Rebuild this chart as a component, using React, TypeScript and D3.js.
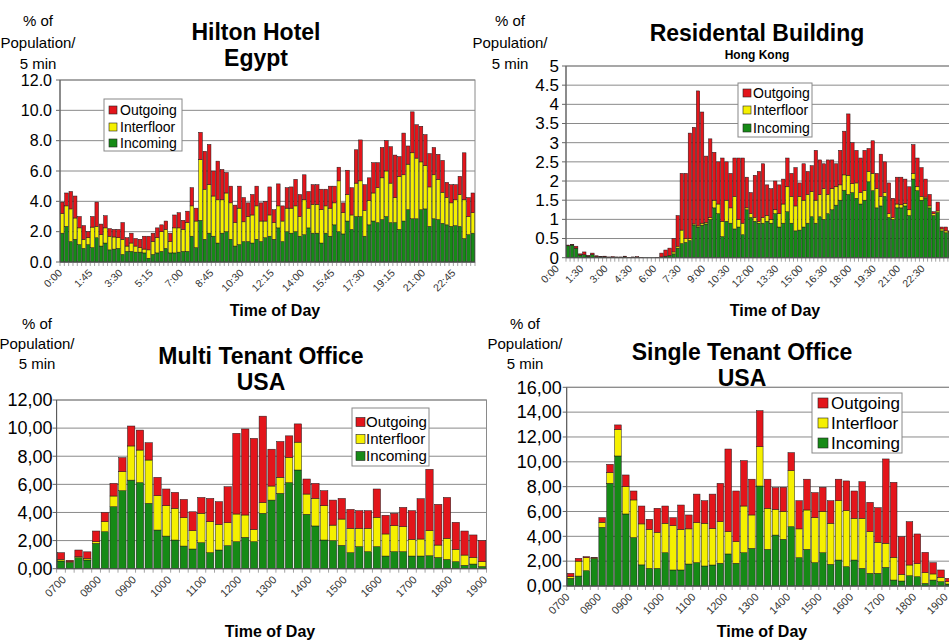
import React from 'react';
import * as d3 from 'd3';

// ---- Hilton Hotel, Egypt (15 min bars, 0:00 - 23:45)
const hiltonIncoming = [
  1.9, 2.35, 1.35, 1.5, 1.15, 0.9, 1.15, 0.95, 1.6, 1.05,
  1.25, 0.8, 0.85, 0.9, 0.5, 0.7, 0.7, 0.65, 0.65, 0.6,
  0.25, 0.5, 0.6, 0.7, 0.9, 0.6, 0.6, 0.65, 0.7, 0.7,
  1.7, 0.95, 2.75, 1.5, 1.9, 1.7, 1.25, 1.9, 2.0, 1.5,
  1.05, 1.15, 1.35, 1.35, 1.25, 1.5, 1.35, 1.6, 1.7, 1.5,
  2.25, 1.35, 2.0, 1.9, 2.0, 1.7, 1.8, 2.25, 1.9, 1.9,
  1.25, 1.9, 1.7, 2.45, 2.0, 1.85, 2.7, 2.15, 3.0, 3.0,
  1.7, 2.45, 2.7, 2.6, 2.8, 3.0, 2.6, 2.6, 2.15, 2.7,
  3.45, 2.85, 2.85, 3.45, 3.5, 2.35, 2.85, 2.8, 2.55, 2.45,
  2.35, 2.4, 2.35, 1.55, 1.8, 1.9,
];
const hiltonInterfloor = [
  1.3, 1.35, 2.15, 1.4, 1.1, 0.6, 0.45, 1.35, 0.75, 0.75,
  1.0, 0.9, 0.8, 0.7, 1.0, 0.35, 0.55, 0.4, 0.3, 0.25,
  0.55, 0.85, 1.0, 1.3, 1.25, 0.75, 1.65, 1.6, 1.45, 1.9,
  2.0, 1.75, 4.0, 3.3, 3.2, 2.65, 2.85, 2.2, 2.55, 2.4,
  1.55, 2.4, 1.3, 1.65, 1.85, 2.2, 1.35, 1.1, 1.4, 1.1,
  1.45, 1.35, 1.55, 1.65, 1.7, 1.3, 2.3, 1.3, 1.9, 1.9,
  2.2, 1.8, 1.85, 1.45, 3.35, 1.4, 1.75, 0.95, 2.2, 2.35,
  1.7, 1.6, 1.85, 2.3, 2.75, 3.0, 2.6, 1.65, 3.5, 3.05,
  3.0, 4.35, 4.0, 3.15, 2.85, 2.6, 2.9, 2.65, 2.05, 1.8,
  1.55, 1.7, 2.1, 2.55, 1.2, 1.35,
];
const hiltonOutgoing = [
  0.75, 0.85, 1.15, 1.45, 0.75, 0.9, 0.4, 0.7, 1.6, 0.7,
  0.8, 0.5, 0.5, 0.55, 1.1, 0.55, 0.65, 0.5, 0.55, 0.85,
  0.9, 0.55, 0.65, 0.45, 0.55, 0.55, 0.85, 1.0, 0.6, 0.75,
  1.2, 0.85, 1.8, 2.5, 2.65, 1.65, 2.55, 2.0, 1.35, 1.1,
  1.15, 1.45, 1.6, 0.9, 1.35, 1.3, 1.2, 1.3, 1.85, 0.85,
  1.45, 1.0, 1.35, 1.4, 1.75, 1.45, 1.65, 1.1, 1.3, 1.3,
  1.35, 1.1, 1.45, 1.1, 0.9, 0.65, 1.6, 1.8, 2.2, 2.7,
  1.7, 1.5, 2.0, 1.65, 2.0, 2.0, 2.4, 2.8, 1.3, 2.75,
  1.2, 2.7, 2.2, 2.35, 2.05, 2.2, 1.8, 1.65, 2.1, 1.0,
  1.2, 1.0, 1.2, 3.1, 1.25, 1.3,
];
const hiltonTicks = ['0:00', '1:45', '3:30', '5:15', '7:00', '8:45', '10:30', '12:15', '14:00', '15:45', '17:30', '19:15', '21:00', '22:45'];

// ---- Residental Building, Hong Kong (15 min bars)
const hkIncoming = [
  0.31, 0.33, 0.25, 0.07, 0.08, 0.04, 0.08, 0.03, 0.02, 0.02,
  0.01, 0.01, 0.01, 0.01, 0.02, 0, 0.01, 0.01, 0, 0,
  0, 0, 0, 0.02, 0.04, 0.06, 0.1, 0.25, 0.37, 0.4,
  0.45, 0.85, 0.8, 0.85, 0.88, 1.0, 1.3, 1.15, 0.55, 0.95,
  0.9, 0.75, 0.8, 0.6, 1.25, 1.05, 0.95, 0.9, 0.9, 0.95,
  0.9, 1.15, 0.8, 0.9, 1.2, 0.9, 0.7, 0.72, 0.8, 0.9,
  1.07, 0.9, 1.07, 1.0, 1.15, 1.25, 1.37, 1.5, 1.76, 1.65,
  1.7, 1.55, 1.4, 1.5, 1.98, 1.75, 1.3, 1.35, 1.6, 1.05,
  1.0, 1.3, 1.3, 1.35, 1.1, 2.05, 1.75, 1.5, 1.55, 1.3,
  1.1, 1.18, 0.7, 0.65, 0.65, 0.6,
];
const hkInterfloor = [
  0, 0, 0, 0, 0, 0, 0, 0, 0, 0,
  0, 0, 0, 0, 0, 0, 0, 0, 0, 0,
  0, 0, 0, 0, 0, 0, 0.05, 0.05, 0.35, 0.1,
  0.05, 0.03, 0.03, 0.05, 0.04, 0.05, 0.2, 0.25, 0.4, 0.55,
  0.4, 0.85, 0.2, 0.3, 0.05, 0.1, 0.1, 0.05, 0.15, 0.15,
  0.1, 0.1, 0.35, 0.5, 0.65, 0.7, 0.65, 0.88, 0.7, 0.75,
  0.65, 0.6, 0.58, 0.8, 0.5, 0.55, 0.48, 0.4, 0.4, 0.5,
  0.23, 0.4, 0.3, 0.25, 0.27, 0.45, 0.5, 0.25, 0.1, 0.1,
  0.05, 0.1, 0.08, 0.07, 0.15, 0.15, 0.1, 0.1, 0.03, 0.05,
  0.05, 0.04, 0.05, 0.05, 0.03, 0.02,
];
const hkOutgoing = [
  0.02, 0.02, 0.05, 0.03, 0.07, 0.02, 0.04, 0.02, 0.01, 0.02,
  0.01, 0.02, 0.01, 0.01, 0.02, 0.01, 0.01, 0.02, 0.01, 0,
  0, 0, 0.01, 0.1, 0.16, 0.19, 0.35, 0.8, 1.48, 1.7,
  2.75, 2.52, 3.52, 2.9, 1.73, 2.05, 1.25, 1.1, 1.65, 1.0,
  0.9, 1.0, 1.6, 1.7, 0.8, 0.55, 1.1, 1.3, 1.4, 0.8,
  0.8, 0.75, 0.75, 0.65, 0.75, 0.6, 1.0, 0.35, 0.95, 0.6,
  0.68, 1.3, 0.9, 0.65, 0.9, 0.75, 0.6, 0.9, 1.14, 1.6,
  1.07, 0.85, 0.9, 1.05, 0.6, 0.85, 0.4, 1.1, 0.8, 0.8,
  0.5, 0.7, 0.72, 0.63, 0.6, 0.75, 0.75, 0.75, 0.47, 0.3,
  0.05, 0.23, 0.05, 0.1, 0.02, 0.03,
];
const hkTicks = ['0:00', '1:30', '3:00', '4:30', '6:00', '7:30', '9:00', '10:30', '12:00', '13:30', '15:00', '16:30', '18:00', '19:30', '21:00', '22:30'];

// ---- Multi Tenant Office, USA (0700 - 1915)
const multiIncoming = [
  0.55, 0.45, 0.78, 0.62, 1.8, 2.63, 4.41, 5.55, 6.3, 6.12,
  4.65, 2.75, 2.32, 2.04, 1.61, 1.4, 1.85, 1.14, 1.33, 1.64,
  1.92, 2.23, 1.92, 3.94, 4.88, 5.36, 6.12, 7.02, 3.87, 3.04,
  2.04, 2.0, 1.66, 1.14, 1.57, 1.21, 1.57, 0.9, 1.21, 1.21,
  0.9, 0.9, 0.92, 0.8, 0.66, 0.5, 0.24, 0.33, 0.15,
];
const multiInterfloor = [
  0.11, 0.05, 0.07, 0.11, 0.12, 0.71, 0.76, 1.35, 2.43, 2.32,
  3.08, 2.44, 2.16, 2.25, 2.02, 1.3, 2.09, 2.2, 1.82, 1.63,
  1.97, 1.59, 0.88, 0.76, 1.0, 1.14, 1.8, 1.98, 1.44, 1.96,
  2.44, 1.1, 1.87, 1.73, 1.3, 1.66, 2.08, 1.57, 1.85, 1.78,
  1.19, 1.21, 1.78, 0.88, 1.5, 0.88, 0.73, 0.47, 0.35,
];
const multiOutgoing = [
  0.48, 0.1, 0.48, 0.47, 0.76, 0.66, 0.9, 1.0, 1.42, 1.42,
  1.23, 1.31, 1.19, 1.14, 1.3, 1.35, 1.13, 1.66, 1.62, 2.56,
  5.74, 6.12, 6.47, 6.15, 2.62, 2.55, 1.53, 1.3, 1.07, 1.07,
  1.07, 1.78, 1.47, 1.35, 1.26, 1.26, 2.02, 1.33, 0.88, 1.37,
  2.04, 2.87, 4.37, 2.9, 2.91, 1.92, 1.71, 1.6, 1.5,
];

// ---- Single Tenant Office, USA (0700 - 1915)
const singleIncoming = [
  0.62, 0.8, 1.23, 2.2, 4.72, 8.27, 10.47, 5.8, 3.9, 1.7,
  1.42, 1.42, 2.68, 1.29, 1.29, 1.77, 1.88, 1.61, 1.69, 1.83,
  2.58, 1.83, 2.68, 3.03, 8.05, 2.95, 4.1, 3.76, 4.78, 2.28,
  2.95, 1.88, 2.68, 1.74, 2.09, 1.56, 2.09, 1.42, 1.02, 1.02,
  1.5, 0.48, 0.4, 0.83, 0.75, 0.21, 0.48, 0.35, 0.16,
];
const singleInterfloor = [
  0.13, 1.2, 1.05, 0.05, 0.41, 0.86, 2.13, 2.2, 3.03, 3.3,
  3.14, 2.9, 2.37, 3.57, 3.27, 2.83, 3.22, 3.44, 2.95, 3.35,
  1.8, 1.74, 3.76, 2.69, 3.17, 3.31, 2.07, 2.24, 4.51, 2.32,
  3.17, 3.62, 3.32, 3.31, 4.78, 4.51, 3.36, 4.03, 3.36, 2.5,
  1.94, 1.83, 0.54, 0.86, 1.05, 0.86, 0.49, 0.35, 0.19,
];
const singleOutgoing = [
  0.27, 0.23, 0.08, 0.05, 0.37, 0.67, 0.37, 0.94, 0.72, 1.44,
  0.81, 1.94, 1.39, 0.64, 1.96, 1.12, 2.3, 1.82, 2.76, 3.09,
  6.65, 4.08, 3.66, 2.88, 2.9, 2.34, 1.75, 1.95, 1.45, 2.27,
  2.48, 2.02, 1.95, 1.82, 1.73, 2.39, 2.2, 2.95, 2.36, 2.79,
  6.79, 6.04, 3.03, 3.49, 2.39, 1.64, 0.91, 0.59, 0.27,
];
const officeTicks = ['0700', '0800', '0900', '1000', '1100', '1200', '1300', '1400', '1500', '1600', '1700', '1800', '1900'];

const KEYS = ['incoming', 'interfloor', 'outgoing'];
const COLORS: Record<string, string> = { incoming: '#168a16', interfloor: '#f5f000', outgoing: '#e3151b' };
const LEGEND = [
  { key: 'outgoing', label: 'Outgoing' },
  { key: 'interfloor', label: 'Interfloor' },
  { key: 'incoming', label: 'Incoming' },
];

const commaFmt = (v: number) => d3.format('.2f')(v).replace('.', ',');

type PanelProps = {
  incoming: number[];
  interfloor: number[];
  outgoing: number[];
  ticks: string[];
  tickEvery: number;
  tickDx: number;
  box: number[];
  yMax: number;
  yStep: number;
  fmt: (v: number) => string;
  yFont: number;
  yGap: number;
  xFont: number;
  legend: { x: number; y: number; w: number; h: number; font: number; sq: number; sqX: number; textX: number; rows: number[] };
  title: string[];
  titleX: number;
  titleY: number[];
  titleSize: number[];
  ylabX: number;
  ylabY: number[];
  xlab: number[];
};

function Panel(p: PanelProps) {
  const [x0, y0, x1, y1] = p.box;
  const n = p.incoming.length;
  const x = d3.scaleBand<number>().domain(d3.range(n)).range([x0, x1]).paddingInner(0.16).paddingOuter(0.08);
  const y = d3.scaleLinear().domain([0, p.yMax]).range([y1, y0]);
  const rows = d3.range(n).map((i) => ({ i, incoming: p.incoming[i], interfloor: p.interfloor[i], outgoing: p.outgoing[i] }));
  const series = d3.stack<any>().keys(KEYS)(rows);
  const yTicks = d3.range(0, p.yMax + p.yStep / 2, p.yStep);
  const step = x.step();
  const lg = p.legend;

  return (
    <g>
      {/* y label */}
      {['% of', 'Population/', '5 min'].map((t, i) => (
        <text key={t} x={p.ylabX} y={p.ylabY[i]} textAnchor="middle" fontSize={15}>{t}</text>
      ))}
      {/* titles */}
      {p.title.map((t, i) => (
        <text key={t} x={p.titleX} y={p.titleY[i]} textAnchor="middle" fontSize={p.titleSize[i]} fontWeight="bold">{t}</text>
      ))}
      {/* grid */}
      {yTicks.map((t) => (
        <g key={t}>
          <line x1={x0} x2={x1} y1={y(t)} y2={y(t)} stroke="#8a8a8a" strokeWidth={1} />
          <line x1={x0 - 4} x2={x0} y1={y(t)} y2={y(t)} stroke="#666" />
          <text x={x0 - p.yGap} y={y(t)} dy="0.35em" textAnchor="end" fontSize={p.yFont}>{p.fmt(t)}</text>
        </g>
      ))}
      <rect x={x0} y={y0} width={x1 - x0} height={y1 - y0} fill="none" stroke="#8a8a8a" />
      {/* bars */}
      {series.map((s) => (
        <g key={s.key} fill={COLORS[s.key]} stroke="#1a1a1a" strokeWidth={0.5}>
          {s.map((d, i) => (
            <rect key={i} x={x(i)} y={y(d[1])} width={x.bandwidth()} height={Math.max(0, y(d[0]) - y(d[1]))} />
          ))}
        </g>
      ))}
      {/* axes */}
      <line x1={x0} x2={x0} y1={y0} y2={y1} stroke="#555" />
      <line x1={x0} x2={x1} y1={y1} y2={y1} stroke="#555" />
      {d3.range(n + 1).map((i) => (
        <line key={i} x1={x0 + i * step} x2={x0 + i * step} y1={y1} y2={y1 + 4} stroke="#666" strokeWidth={0.6} />
      ))}
      {p.ticks.map((t, k) => {
        const cx = (x(k * p.tickEvery) as number) + x.bandwidth() / 2;
        return (
          <text key={t} transform={`translate(${cx + p.tickDx},${y1 + 9}) rotate(-45)`} textAnchor="end" dy="0.35em" fontSize={p.xFont} fill="#333">{t}</text>
        );
      })}
      <text x={p.xlab[0]} y={p.xlab[1]} textAnchor="middle" fontSize={16} fontWeight="bold">Time of Day</text>
      {/* legend */}
      <rect x={lg.x} y={lg.y} width={lg.w} height={lg.h} fill="#fff" stroke="#888" />
      {LEGEND.map((l, i) => (
        <g key={l.key}>
          <rect x={lg.sqX} y={lg.rows[i] - lg.sq / 2} width={lg.sq} height={lg.sq} fill={COLORS[l.key]} stroke="#222" strokeWidth={0.6} />
          <text x={lg.textX} y={lg.rows[i]} dy="0.35em" fontSize={lg.font}>{l.label}</text>
        </g>
      ))}
    </g>
  );
}

export default function App() {
  return (
    <svg width={949} height={640} style={{ position: 'absolute', left: 0, top: 0, background: '#fff' }} fontFamily="'Liberation Sans', Arial, sans-serif">
      <Panel
        incoming={hiltonIncoming} interfloor={hiltonInterfloor} outgoing={hiltonOutgoing}
        ticks={hiltonTicks} tickEvery={7} tickDx={-2}
        box={[60, 80, 475, 262]} yMax={12} yStep={2} fmt={d3.format('.1f')} yFont={16} yGap={8} xFont={10.5}
        legend={{ x: 104, y: 99, w: 78, h: 52, font: 14, sq: 8, sqX: 109, textX: 120, rows: [110, 127, 143] }}
        title={['Hilton Hotel', 'Egypt']} titleX={256} titleY={[40, 66]} titleSize={[23, 23]}
        ylabX={38} ylabY={[26, 48, 69]} xlab={[275, 316]}
      />
      <Panel
        incoming={hkIncoming} interfloor={hkInterfloor} outgoing={hkOutgoing}
        ticks={hkTicks} tickEvery={6} tickDx={-11}
        box={[566, 66, 956, 257.7]} yMax={5} yStep={0.5} fmt={(v) => String(v)} yFont={17} yGap={7} xFont={10.5}
        legend={{ x: 738, y: 83, w: 74, h: 54, font: 14, sq: 8, sqX: 743, textX: 753, rows: [93, 110, 128] }}
        title={['Residental Building', 'Hong Kong']} titleX={757} titleY={[41, 59]} titleSize={[23, 12]}
        ylabX={510} ylabY={[26, 48, 69]} xlab={[775, 316]}
      />
      <Panel
        incoming={multiIncoming} interfloor={multiInterfloor} outgoing={multiOutgoing}
        ticks={officeTicks} tickEvery={4} tickDx={3}
        box={[56.6, 400, 486.5, 568.7]} yMax={12} yStep={2} fmt={commaFmt} yFont={18} yGap={4} xFont={11}
        legend={{ x: 352, y: 408, w: 77, h: 58, font: 15, sq: 9, sqX: 356, textX: 366, rows: [422, 439, 456] }}
        title={['Multi Tenant Office', 'USA']} titleX={261} titleY={[364, 390]} titleSize={[23, 23]}
        ylabX={37} ylabY={[329, 349, 369]} xlab={[270, 637]}
      />
      <Panel
        incoming={singleIncoming} interfloor={singleInterfloor} outgoing={singleOutgoing}
        ticks={officeTicks} tickEvery={4} tickDx={-3}
        box={[566.7, 387.3, 952.8, 586]} yMax={16} yStep={2} fmt={commaFmt} yFont={18} yGap={5} xFont={11}
        legend={{ x: 812, y: 393, w: 90, h: 60, font: 17, sq: 10, sqX: 818, textX: 831, rows: [403, 423, 443] }}
        title={['Single Tenant Office', 'USA']} titleX={742} titleY={[360, 386]} titleSize={[23, 23]}
        ylabX={525} ylabY={[329, 349, 369]} xlab={[762, 637]}
      />
    </svg>
  );
}
